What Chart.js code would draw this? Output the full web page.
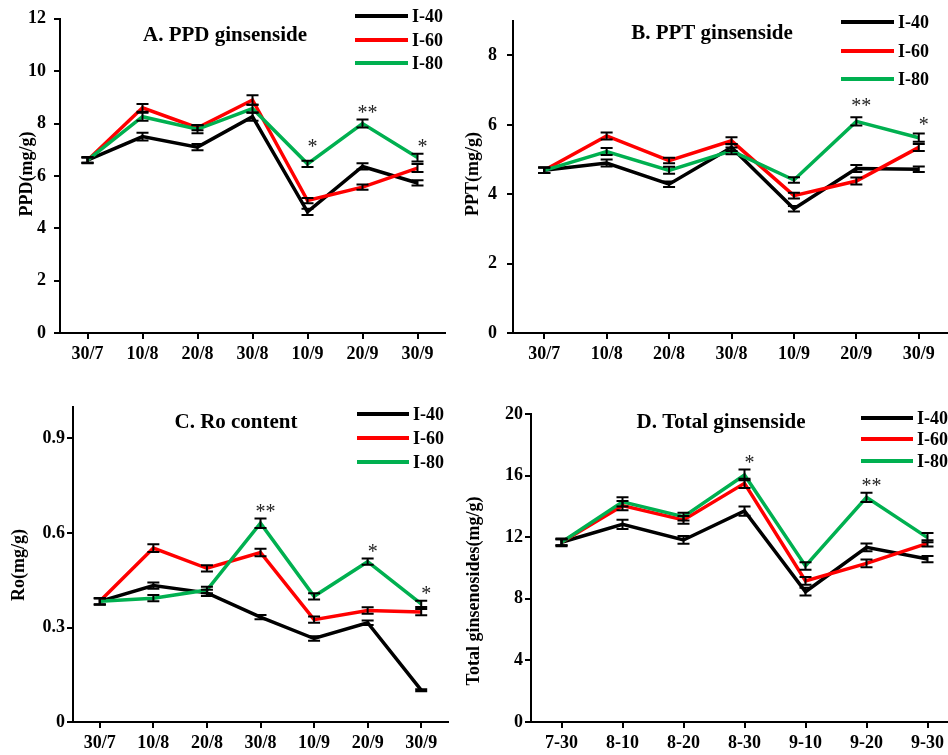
<!DOCTYPE html>
<html>
<head>
<meta charset="utf-8">
<script src="https://cdn.jsdelivr.net/npm/chart.js@4.4.1/dist/chart.umd.min.js"></script>
<style>
  body { margin: 0; width: 948px; height: 755px; overflow: hidden; background: #fff; position: relative; }
  canvas { position: absolute; }
</style>
</head>
<body>
<canvas id="cA"></canvas>
<canvas id="cB"></canvas>
<canvas id="cC"></canvas>
<canvas id="cD"></canvas>
<script>
// categories
const datesSlash = ['30/7', '10/8', '20/8', '30/8', '10/9', '20/9', '30/9'];
const datesDash = ['7-30', '8-10', '8-20', '8-30', '9-10', '9-20', '9-30'];
const seriesNames = ['I-40', 'I-60', 'I-80'];

// A. PPD
const ppd40 = [6.6, 7.5, 7.1, 8.26, 4.63, 6.36, 5.73];
const ppd60 = [6.6, 8.6, 7.84, 8.9, 5.06, 5.57, 6.3];
const ppd80 = [6.6, 8.26, 7.78, 8.57, 6.46, 8.0, 6.7];
const ppd40Err = [0.12, 0.15, 0.12, 0.15, 0.12, 0.12, 0.1];
const ppd60Err = [0.1, 0.15, 0.1, 0.18, 0.1, 0.1, 0.15];
const ppd80Err = [0.1, 0.15, 0.15, 0.15, 0.12, 0.15, 0.15];

// B. PPT
const ppt40 = [4.69, 4.9, 4.29, 5.35, 3.58, 4.74, 4.72];
const ppt60 = [4.69, 5.68, 4.97, 5.54, 3.96, 4.38, 5.35];
const ppt80 = [4.69, 5.23, 4.69, 5.25, 4.41, 6.1, 5.63];
const ppt40Err = [0.08, 0.1, 0.08, 0.1, 0.08, 0.1, 0.08];
const ppt60Err = [0.08, 0.1, 0.08, 0.1, 0.08, 0.1, 0.1];
const ppt80Err = [0.08, 0.1, 0.1, 0.1, 0.08, 0.12, 0.12];

// C. Ro
const ro40 = [0.383, 0.433, 0.41, 0.333, 0.265, 0.315, 0.101];
const ro60 = [0.383, 0.552, 0.488, 0.538, 0.325, 0.354, 0.349];
const ro80 = [0.383, 0.393, 0.419, 0.631, 0.399, 0.509, 0.375];
const ro40Err = [0.01, 0.01, 0.01, 0.007, 0.007, 0.007, 0.003];
const ro60Err = [0.01, 0.012, 0.01, 0.012, 0.01, 0.01, 0.01];
const ro80Err = [0.01, 0.01, 0.01, 0.015, 0.01, 0.01, 0.01];

// D. Total
const tot40 = [11.67, 12.83, 11.82, 13.7, 8.46, 11.34, 10.58];
const tot60 = [11.67, 14.05, 13.12, 15.5, 9.16, 10.3, 11.6];
const tot80 = [11.67, 14.3, 13.33, 16.04, 10.13, 14.59, 11.97];
const tot40Err = [0.25, 0.3, 0.25, 0.3, 0.25, 0.25, 0.2];
const tot60Err = [0.2, 0.3, 0.25, 0.3, 0.25, 0.25, 0.2];
const tot80Err = [0.2, 0.3, 0.25, 0.35, 0.25, 0.3, 0.3];

// significance marks: [category index, mark, extra lift px]
const starsA = [[4, '*', 7], [5, '**', 0], [6, '*', 0]];
const starsB = [[5, '**', 4], [6, '*', 2]];
const starsC = [[3, '**', 0], [5, '*', 0], [6, '*', 0]];
const starsD = [[3, '*', 0], [5, '**', 0]];

const colors = ['#000000', '#ff0000', '#00b050'];
const FONT = '"Liberation Serif", "Times New Roman", serif';

function makePanel(id, p) {
  const cv = document.getElementById(id);
  cv.width = p.box[2];
  cv.height = p.box[3];
  cv.style.left = p.box[0] + 'px';
  cv.style.top = p.box[1] + 'px';
  const ox = p.box[0], oy = p.box[1];

  const extras = {
    id: 'extras' + id,
    afterDatasetsDraw(chart) {
      const ctx = chart.ctx;
      const xs = chart.scales.x, ys = chart.scales.y;
      ctx.save();
      // error bars
      ctx.strokeStyle = '#000';
      ctx.lineWidth = 2;
      p.series.forEach((vals, si) => {
        vals.forEach((v, i) => {
          const e = p.errs[si][i];
          const x = xs.getPixelForValue(i);
          const y1 = ys.getPixelForValue(v - e), y2 = ys.getPixelForValue(v + e);
          ctx.beginPath();
          ctx.moveTo(x, y1); ctx.lineTo(x, y2);
          ctx.moveTo(x - 6, y1); ctx.lineTo(x + 6, y1);
          ctx.moveTo(x - 6, y2); ctx.lineTo(x + 6, y2);
          ctx.stroke();
        });
      });
      // stars above I-80
      ctx.fillStyle = '#222';
      ctx.font = '20px ' + FONT;
      ctx.textAlign = 'center';
      ctx.textBaseline = 'alphabetic';
      p.stars.forEach(([i, s, lift]) => {
        const v = p.series[2][i] + p.errs[2][i];
        ctx.fillText(s, xs.getPixelForValue(i) + 5, ys.getPixelForValue(v) - 1 - lift);
      });
      // title
      ctx.fillStyle = '#000';
      ctx.font = 'bold 21px ' + FONT;
      ctx.textBaseline = 'middle';
      ctx.fillText(p.title, p.titlePos[0] - ox, p.titlePos[1] - oy);
      // legend
      ctx.font = 'bold 18px ' + FONT;
      ctx.textAlign = 'left';
      seriesNames.forEach((n, k) => {
        const y = p.legend.rows[k] - oy;
        ctx.strokeStyle = colors[k];
        ctx.lineWidth = 4;
        ctx.beginPath();
        ctx.moveTo(p.legend.x0 - ox, y);
        ctx.lineTo(p.legend.x1 - ox, y);
        ctx.stroke();
        ctx.fillText(n, p.legend.x1 + 4 - ox, y + 1);
      });
      // y axis title
      ctx.translate(p.yLabelPos[0] - ox, p.yLabelPos[1] - oy);
      ctx.rotate(-Math.PI / 2);
      ctx.textAlign = 'center';
      ctx.fillText(p.yLabel, 0, 0);
      ctx.restore();
    }
  };

  const axisFont = { family: FONT, size: 18, weight: 'bold' };
  return new Chart(cv, {
    type: 'line',
    data: {
      labels: p.labels,
      datasets: p.series.map((vals, k) => ({
        label: seriesNames[k],
        data: vals,
        borderColor: colors[k],
        borderWidth: 3.5,
        pointRadius: 0,
        tension: 0,
        order: 3 - k,
      })),
    },
    options: {
      responsive: false,
      animation: false,
      layout: { padding: { left: 0, bottom: 0, top: p.area[1] - oy, right: ox + p.box[2] - p.area[2] } },
      plugins: { legend: { display: false }, tooltip: { enabled: false } },
      scales: {
        x: {
          offset: true,
          grid: { drawOnChartArea: false, color: '#000', lineWidth: 2, tickLength: 6 },
          border: { color: '#000', width: 2 },
          ticks: { color: '#000', font: axisFont, padding: 5, maxRotation: 0, autoSkip: false },
          afterFit: s => { s.height = oy + p.box[3] - p.area[3]; },
        },
        y: {
          min: 0,
          max: p.yMax,
          grid: { drawOnChartArea: false, color: '#000', lineWidth: 2, tickLength: 6 },
          border: { color: '#000', width: 2 },
          ticks: {
            color: '#000', font: axisFont, padding: p.yPad,
            stepSize: p.yStep, includeBounds: false,
            callback: v => String(Math.round(v * 10) / 10),
          },
          afterFit: s => { s.width = p.area[0] - ox; },
        },
      },
    },
    plugins: [extras],
  });
}

makePanel('cA', {
  box: [0, 0, 462, 385], area: [60, 16, 445, 333],
  labels: datesSlash, series: [ppd40, ppd60, ppd80], errs: [ppd40Err, ppd60Err, ppd80Err],
  yMax: 12, yStep: 2, yPad: 8, stars: starsA,
  title: 'A. PPD ginsenside', titlePos: [225, 36],
  legend: { x0: 355, x1: 408, rows: [16, 40, 63] },
  yLabel: 'PPD(mg/g)', yLabelPos: [27, 174],
});

makePanel('cB', {
  box: [462, 0, 490, 385], area: [513, 14, 950, 333],
  labels: datesSlash, series: [ppt40, ppt60, ppt80], errs: [ppt40Err, ppt60Err, ppt80Err],
  yMax: 9, yStep: 2, yPad: 10, stars: starsB,
  title: 'B. PPT ginsenside', titlePos: [712, 34],
  legend: { x0: 841, x1: 894, rows: [22, 51, 79] },
  yLabel: 'PPT(mg/g)', yLabelPos: [473, 174],
});

makePanel('cC', {
  box: [0, 385, 462, 370], area: [73, 407, 448, 722],
  labels: datesSlash, series: [ro40, ro60, ro80], errs: [ro40Err, ro60Err, ro80Err],
  yMax: 1.0, yStep: 0.3, yPad: 2, stars: starsC,
  title: 'C. Ro content', titlePos: [236, 423],
  legend: { x0: 357, x1: 409, rows: [414, 438, 462] },
  yLabel: 'Ro(mg/g)', yLabelPos: [19, 565],
});

makePanel('cD', {
  box: [462, 385, 500, 370], area: [531, 414, 958, 722],
  labels: datesDash, series: [tot40, tot60, tot80], errs: [tot40Err, tot60Err, tot80Err],
  yMax: 20, yStep: 4, yPad: 2, stars: starsD,
  title: 'D. Total ginsenside', titlePos: [721, 423],
  legend: { x0: 861, x1: 913, rows: [418, 439, 461] },
  yLabel: 'Total ginsenosides(mg/g)', yLabelPos: [474, 591],
});
</script>
</body>
</html>
